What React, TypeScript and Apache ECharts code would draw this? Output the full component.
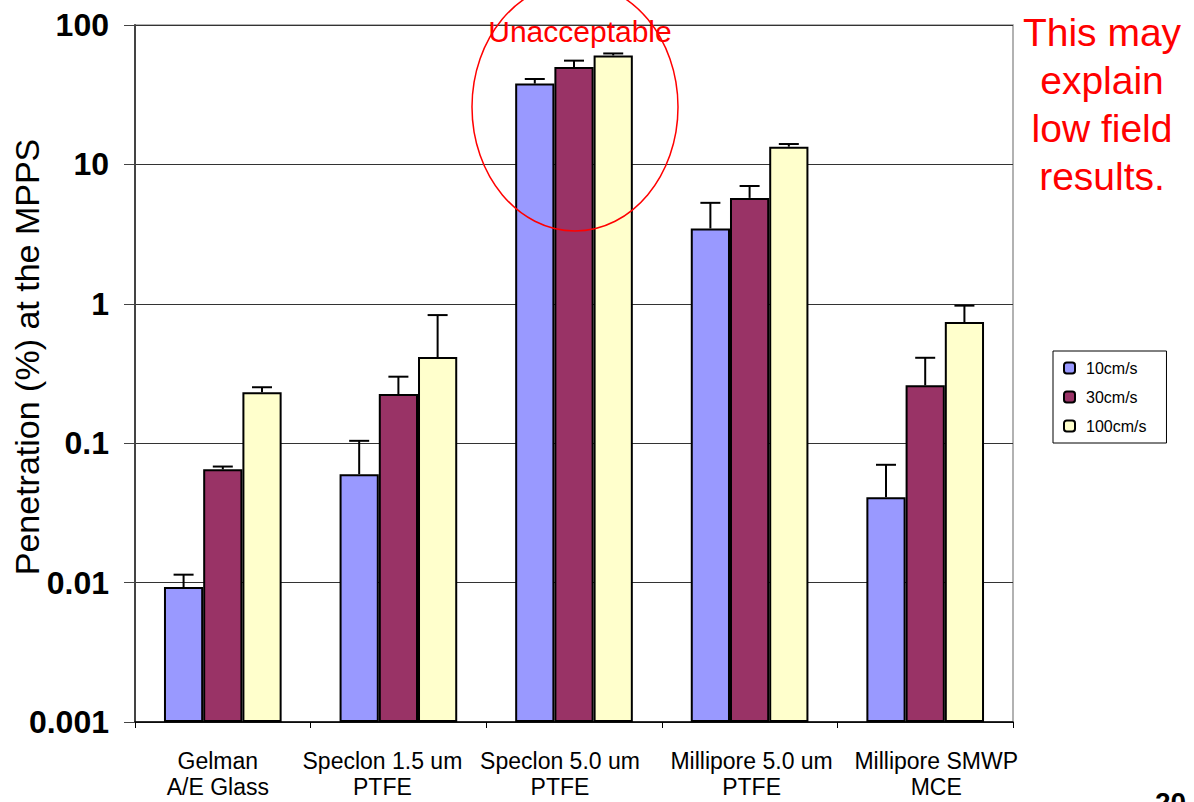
import React, { useEffect, useRef } from "react";
import * as echarts from "echarts";

const categories = [
  "Gelman\nA/E Glass",
  "Speclon 1.5 um\nPTFE",
  "Speclon 5.0 um\nPTFE",
  "Millipore 5.0 um\nPTFE",
  "Millipore SMWP\nMCE",
];
const seriesNames = ["10cm/s", "30cm/s", "100cm/s"];
const v10 = [0.0093, 0.06, 38, 3.47, 0.041];
const v30 = [0.065, 0.225, 50, 5.75, 0.26];
const v100 = [0.232, 0.415, 60.5, 13.4, 0.74];
const err10 = [0.0114, 0.104, 41, 5.3, 0.07];
const err30 = [0.068, 0.3, 55.5, 7.0, 0.41];
const err100 = [0.252, 0.83, 62.5, 14.0, 0.97];
const yTickLabels = ["0.001", "0.01", "0.1", "1", "10", "100"];
const yTitle = "Penetration (%) at the MPPS";
const colors = ["#9999FF", "#993366", "#FFFFCC"];
// horizontal nudge of each category label (px), a style setting
const labelShift = [-5, -16, -14, 2, 11];

const values = [v10, v30, v100];
const errors = [err10, err30, err100];
const GAP = 0.33;

export default function App() {
  const ref = useRef<HTMLDivElement>(null);
  useEffect(() => {
    if (!ref.current) return;
    const chart = echarts.init(ref.current, null, { renderer: "svg" });
    const barSeries = seriesNames.map((name, i) => ({
      name,
      type: "bar",
      data: values[i],
      barGap: "0%",
      barCategoryGap: "33%",
      itemStyle: { color: colors[i], borderColor: "#000", borderWidth: 2 },
      z: 2,
    }));
    const errSeries = seriesNames.map((name, i) => ({
      name: name + " err",
      type: "custom",
      z: 5,
      data: errors[i].map((e, k) => [k, e, values[i][k]]),
      renderItem: (params: any, api: any) => {
        const cat = api.value(0);
        const top = api.value(1);
        const base = api.value(2);
        const p0 = api.coord([0, top]);
        const p1 = api.coord([1, top]);
        const catW = p1[0] - p0[0];
        const barW = (catW * (1 - GAP)) / 3;
        const pt = api.coord([cat, top]);
        const pb = api.coord([cat, base]);
        const x = pt[0] + (i - 1) * barW;
        const st = { stroke: "#000", lineWidth: 2 };
        return {
          type: "group",
          children: [
            { type: "line", shape: { x1: x, y1: pb[1], x2: x, y2: pt[1] }, style: st },
            { type: "line", shape: { x1: x - 10, y1: pt[1], x2: x + 10, y2: pt[1] }, style: st },
          ],
        };
      },
    }));
    const xData = categories.map((c, k) => {
      const d = labelShift[k];
      return {
        value: c,
        textStyle: { padding: d >= 0 ? [0, 0, 0, 2 * d] : [0, -2 * d, 0, 0] },
      };
    });
    chart.setOption({
      animation: false,
      textStyle: { fontFamily: "Liberation Sans, Arial, sans-serif" },
      grid: {
        left: 135,
        right: 181,
        top: 25,
        bottom: 80,
        show: true,
        borderColor: "#999",
        borderWidth: 1.5,
        outerBoundsMode: "none",
        containLabel: false,
      },
      legend: {
        data: seriesNames,
        orient: "vertical",
        left: 1053,
        top: 351,
        borderColor: "#000",
        borderWidth: 1,
        padding: [9, 20, 9, 10],
        itemWidth: 11,
        itemHeight: 11,
        itemGap: 13,
        textStyle: {
          fontSize: 16,
          color: "#000",
          fontFamily: "Liberation Sans, Arial",
          padding: [0, 0, 0, 6],
        },
      },
      xAxis: {
        type: "category",
        data: xData,
        axisLine: { lineStyle: { color: "#000", width: 1.5 } },
        axisTick: { show: true, length: 6, lineStyle: { color: "#000" } },
        axisLabel: {
          color: "#000",
          fontSize: 23,
          lineHeight: 26,
          margin: 26,
          interval: 0,
          fontFamily: "Liberation Sans, Arial",
        },
      },
      yAxis: {
        type: "log",
        logBase: 10,
        min: 0.001,
        max: 100,
        startValue: 0.001,
        axisLine: { show: true, lineStyle: { color: "#444", width: 2 } },
        axisTick: { show: true, length: 11, lineStyle: { color: "#444" } },
        splitLine: { show: true, lineStyle: { color: "#333", width: 1 } },
        axisLabel: {
          color: "#000",
          fontSize: 32,
          fontWeight: "bold",
          margin: 26,
          fontFamily: "Liberation Sans, Arial",
          formatter: (v: number) => {
            const idx = Math.round(Math.log10(v)) + 3;
            return yTickLabels[idx] ?? "";
          },
        },
      },
      series: [...barSeries, ...errSeries],
      graphic: [
        {
          type: "text",
          x: 27,
          y: 357,
          rotation: Math.PI / 2,
          style: {
            text: yTitle,
            fill: "#000",
            fontSize: 34,
            fontFamily: "Liberation Sans, Arial",
            textAlign: "center",
            textVerticalAlign: "middle",
          },
          z: 10,
        },
        {
          type: "ellipse",
          shape: { cx: 575, cy: 107, rx: 103, ry: 124 },
          style: { fill: "none", stroke: "#ff0000", lineWidth: 1.5 },
          z: 10,
        },
        {
          type: "text",
          x: 580,
          y: 46,
          style: {
            text: "Unacceptable",
            fill: "#ff0000",
            fontSize: 30,
            fontFamily: "Liberation Sans, Arial",
            textAlign: "center",
            textVerticalAlign: "bottom",
          },
          z: 10,
        },
        {
          type: "text",
          x: 1102,
          y: 8,
          style: {
            text: "This may\nexplain\nlow field\nresults.",
            fill: "#ff0000",
            fontSize: 39,
            lineHeight: 48,
            fontFamily: "Liberation Sans, Arial",
            textAlign: "center",
            textVerticalAlign: "top",
          },
          z: 10,
        },
        {
          type: "text",
          x: 1155,
          y: 788,
          style: {
            text: "20",
            fill: "#000",
            fontSize: 28,
            fontWeight: "bold",
            fontFamily: "Liberation Sans, Arial",
          },
          z: 10,
        },
      ],
    });
    return () => chart.dispose();
  }, []);
  return (
    <div
      ref={ref}
      style={{ position: "fixed", left: 0, top: 0, width: 1194, height: 802, background: "#fff" }}
    />
  );
}
